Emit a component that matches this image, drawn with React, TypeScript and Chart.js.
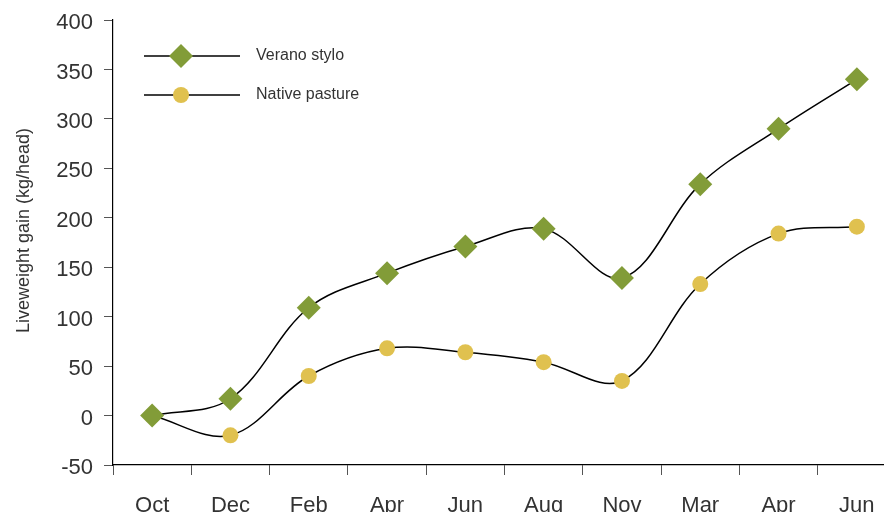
import React, { useEffect, useRef } from "react";
import { Chart, registerables } from "chart.js";

Chart.register(...registerables);

const categories = ["Oct", "Dec", "Feb", "Apr", "Jun", "Aug", "Nov", "Mar", "Apr", "Jun"];
const veranoStylo = [0, 17, 109, 144, 171, 189, 139, 234, 290, 340];
const nativePasture = [0, -20, 40, 68, 64, 54, 35, 133, 184, 191];
const seriesNames = ["Verano stylo", "Native pasture"];
const yMin = -50;
const yMax = 400;
const yStep = 50;
const yTitle = "Liveweight gain (kg/head)";

const GREEN = "#829c38";
const YELLOW = "#e0c14f";
const FONT = "'Liberation Sans', Arial, Helvetica, sans-serif";

const lineLegend = {
  id: "lineLegend",
  afterDraw(chart: any) {
    const ctx = chart.ctx as CanvasRenderingContext2D;
    const x0 = 144;
    const x1 = 240;
    const mx = 181;
    const tx = 256;
    chart.data.datasets.forEach((ds: any, i: number) => {
      const y = 56 + i * 39;
      ctx.save();
      ctx.strokeStyle = "#000";
      ctx.lineWidth = 1.3;
      ctx.beginPath();
      ctx.moveTo(x0, y);
      ctx.lineTo(x1, y);
      ctx.stroke();
      ctx.fillStyle = ds.pointBackgroundColor;
      ctx.beginPath();
      const r = ds.pointRadius;
      if (ds.pointStyle === "rectRot") {
        ctx.moveTo(mx - r, y);
        ctx.lineTo(mx, y - r);
        ctx.lineTo(mx + r, y);
        ctx.lineTo(mx, y + r);
        ctx.closePath();
      } else {
        ctx.arc(mx, y, r, 0, Math.PI * 2);
      }
      ctx.fill();
      ctx.fillStyle = "#333";
      ctx.font = `16px ${FONT}`;
      ctx.textBaseline = "middle";
      ctx.textAlign = "left";
      ctx.fillText(ds.label, tx, y);
      ctx.restore();
    });
  },
};

const yTitlePlugin = {
  id: "yTitleText",
  afterDraw(chart: any) {
    const ctx = chart.ctx as CanvasRenderingContext2D;
    const area = chart.chartArea;
    ctx.save();
    ctx.translate(24, (area.top + area.bottom) / 2 - 12);
    ctx.rotate(-Math.PI / 2);
    ctx.fillStyle = "#333";
    ctx.font = `18px ${FONT}`;
    ctx.textAlign = "center";
    ctx.textBaseline = "middle";
    ctx.fillText(yTitle, 0, 0);
    ctx.restore();
  },
};

export default function App() {
  const ref = useRef<HTMLCanvasElement | null>(null);

  useEffect(() => {
    if (!ref.current) return;
    const chart = new Chart(ref.current, {
      type: "line",
      data: {
        labels: categories,
        datasets: [
          {
            label: seriesNames[0],
            data: veranoStylo,
            borderColor: "#000",
            borderWidth: 1.5,
            pointStyle: "rectRot",
            pointRadius: 12,
            pointHoverRadius: 12,
            pointBackgroundColor: GREEN,
            pointBorderColor: GREEN,
            pointBorderWidth: 0,
            tension: 0.35,
            fill: false,
          },
          {
            label: seriesNames[1],
            data: nativePasture,
            borderColor: "#000",
            borderWidth: 1.5,
            pointStyle: "circle",
            pointRadius: 8,
            pointHoverRadius: 8,
            pointBackgroundColor: YELLOW,
            pointBorderColor: YELLOW,
            pointBorderWidth: 0,
            tension: 0.35,
            fill: false,
          },
        ],
      },
      options: {
        responsive: false,
        animation: false,
        events: [],
        layout: { padding: { top: 0, left: 0, right: 0, bottom: 0 } },
        plugins: {
          legend: { display: false },
          tooltip: { enabled: false },
        },
        scales: {
          x: {
            offset: true,
            grid: {
              offset: true,
              drawOnChartArea: false,
              drawTicks: true,
              tickLength: 10,
              color: "#555",
            },
            border: { color: "#000", width: 1.2 },
            ticks: {
              color: "#333",
              font: { family: FONT, size: 22 },
              padding: 18,
              maxRotation: 0,
              autoSkip: false,
            },
            afterFit: (s: any) => {
              s.height = 47;
            },
          },
          y: {
            min: yMin,
            max: yMax,
            grid: {
              drawOnChartArea: false,
              drawTicks: true,
              tickLength: 9,
              color: "#555",
            },
            border: { color: "#000", width: 1.2 },
            ticks: {
              stepSize: yStep,
              color: "#333",
              font: { family: FONT, size: 22 },
              padding: 11,
              labelOffset: 3,
            },
            afterFit: (s: any) => {
              s.width = 113;
              s.paddingTop = 20;
            },
          },
        },
      },
      plugins: [lineLegend, yTitlePlugin],
    });
    return () => chart.destroy();
  }, []);

  return (
    <div
      style={{
        position: "absolute",
        left: 0,
        top: 0,
        width: 884,
        height: 512,
        overflow: "hidden",
        background: "#fff",
      }}
    >
      <canvas ref={ref} width={908} height={512} style={{ display: "block" }} />
    </div>
  );
}
